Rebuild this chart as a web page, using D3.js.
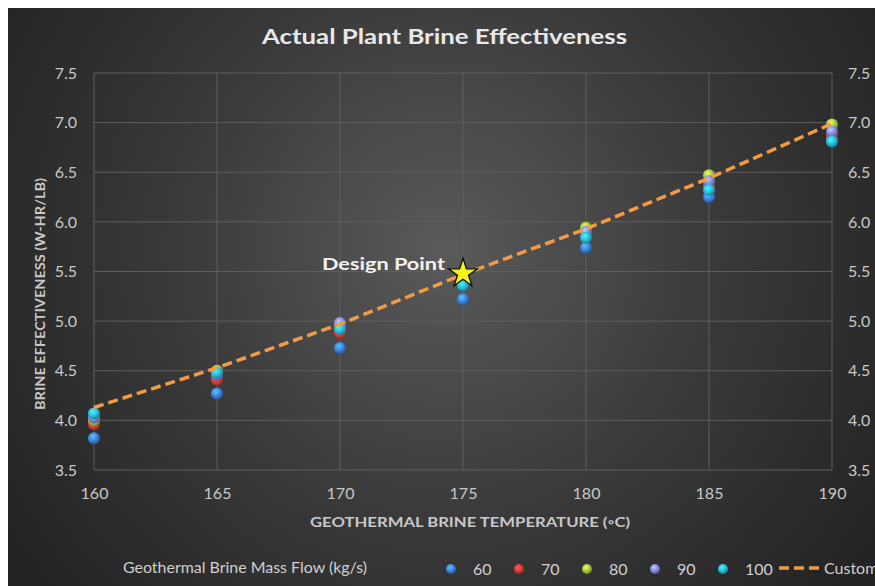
<!DOCTYPE html>
<html>
<head>
<meta charset="utf-8">
<script src="https://cdnjs.cloudflare.com/ajax/libs/d3/7.8.5/d3.min.js"></script>
<style>
  body { margin: 0; background: #fff; }
  text { font-family: "Lato", "Open Sans", sans-serif; }
</style>
</head>
<body>
<script>
'use strict';

// data
const temps = [160, 165, 170, 175, 180, 185, 190];
const flows = ['60', '70', '80', '90', '100'];
const flow60  = [3.82, 4.27, 4.73, 5.22, 5.74, 6.25, 6.84];
const flow70  = [3.96, 4.41, 4.88, 5.38, 5.86, 6.36, 6.87];
const flow80  = [4.00, 4.50, 4.96, 5.45, 5.94, 6.47, 6.98];
const flow90  = [4.03, 4.46, 4.98, 5.42, 5.90, 6.41, 6.91];
const flow100 = [4.07, 4.48, 4.92, 5.36, 5.84, 6.32, 6.81];
const custom  = [4.13, 4.53, 4.97, 5.47, 5.93, 6.44, 6.99];
const designPoint = {t: 175, v: 5.48};
const yTicks = [3.5, 4.0, 4.5, 5.0, 5.5, 6.0, 6.5, 7.0, 7.5];
const colors = ['#3b7fdc', '#d9393a', '#9fc63a', '#7f86db', '#2ab7d8'];

const seriesValues = [flow60, flow70, flow80, flow90, flow100];

const svg = d3.select('body').append('svg')
  .attr('width', 875)
  .attr('height', 586);

const defs = svg.append('defs');

// dark background with lighter centre
let bg = defs.append('radialGradient')
  .attr('id', 'bg')
  .attr('gradientUnits', 'userSpaceOnUse')
  .attr('cx', 445).attr('cy', 250).attr('r', 520);
bg.append('stop').attr('offset', '0%').attr('stop-color', '#5a5a5a');
bg.append('stop').attr('offset', '55%').attr('stop-color', '#383838');
bg.append('stop').attr('offset', '100%').attr('stop-color', '#232323');

// shiny balls
colors.forEach((c, i) => {
  let g = defs.append('radialGradient')
    .attr('id', 'ball' + i)
    .attr('cx', '40%').attr('cy', '35%').attr('r', '65%');
  g.append('stop').attr('offset', '0%').attr('stop-color', d3.color(c).brighter(1.2));
  g.append('stop').attr('offset', '60%').attr('stop-color', c);
  g.append('stop').attr('offset', '100%').attr('stop-color', d3.color(c).darker(1));
});

svg.append('rect')
  .attr('x', 8).attr('y', 8)
  .attr('width', 867).attr('height', 578)
  .attr('fill', 'url(#bg)');

let xScale = d3.scaleLinear().domain([160, 190]).range([94, 832]);
let yScale = d3.scaleLinear().domain([3.5, 7.5]).range([470, 73]);

// grid
svg.append('g').selectAll('line')
  .data(temps)
  .enter().append('line')
  .attr('x1', d => xScale(d)).attr('x2', d => xScale(d))
  .attr('y1', yScale(3.5)).attr('y2', yScale(7.5))
  .attr('stroke', '#5e5e5e').attr('stroke-width', 1);

svg.append('g').selectAll('line')
  .data(yTicks)
  .enter().append('line')
  .attr('x1', xScale(160)).attr('x2', xScale(190))
  .attr('y1', d => yScale(d)).attr('y2', d => yScale(d))
  .attr('stroke', '#5e5e5e').attr('stroke-width', 1);

// axes (labels only, Excel style)
let xAxis = d3.axisBottom(xScale).tickValues(temps).tickSize(0).tickPadding(18);
let gx = svg.append('g').attr('transform', 'translate(0,' + yScale(3.5) + ')').call(xAxis);

let yAxisL = d3.axisLeft(yScale).tickValues(yTicks).tickFormat(d3.format('.1f')).tickSize(0).tickPadding(17);
let gyl = svg.append('g').attr('transform', 'translate(' + xScale(160) + ',0)').call(yAxisL);

let yAxisR = d3.axisRight(yScale).tickValues(yTicks).tickFormat(d3.format('.1f')).tickSize(0).tickPadding(16);
let gyr = svg.append('g').attr('transform', 'translate(' + xScale(190) + ',0)').call(yAxisR);

[gx, gyl, gyr].forEach(g => {
  g.select('.domain').remove();
  g.selectAll('text')
    .style('font-family', 'Lato, sans-serif')
    .style('font-size', '16px')
    .attr('fill', '#c8c8c8');
});

// custom dashed line
let line = d3.line()
  .x((d, i) => xScale(temps[i]))
  .y(d => yScale(d));

// points
seriesValues.forEach((vals, s) => {
  svg.append('g').selectAll('circle')
    .data(vals)
    .enter().append('circle')
    .attr('cx', (d, i) => xScale(temps[i]))
    .attr('cy', d => yScale(d))
    .attr('r', 6)
    .attr('fill', 'url(#ball' + s + ')');
});

svg.append('path')
  .datum(custom)
  .attr('d', line)
  .attr('fill', 'none')
  .attr('stroke', '#f39a45')
  .attr('stroke-width', 3.5)
  .attr('stroke-dasharray', '10,5');

// design point star
let star = d3.symbol().type(d3.symbolStar).size(260);
svg.append('path')
  .attr('d', star)
  .attr('transform', 'translate(' + xScale(designPoint.t) + ',' + yScale(designPoint.v) + ')')
  .attr('fill', '#f7f21c')
  .attr('stroke', '#111')
  .attr('stroke-width', 1.3);

svg.append('text')
  .attr('x', 322)
  .attr('y', 270)
  .attr('textLength', 123)
  .attr('lengthAdjust', 'spacingAndGlyphs')
  .style('font-size', '17px')
  .style('font-weight', 'bold')
  .attr('fill', '#f2f2f2')
  .text('Design Point');

// titles
svg.append('text')
  .attr('x', 262).attr('y', 44)
  .attr('textLength', 365)
  .attr('lengthAdjust', 'spacingAndGlyphs')
  .style('font-size', '21px')
  .style('font-weight', 'bold')
  .attr('fill', '#e8e8e8')
  .text('Actual Plant Brine Effectiveness');

svg.append('text')
  .attr('x', 310).attr('y', 527)
  .attr('textLength', 320)
  .attr('lengthAdjust', 'spacingAndGlyphs')
  .style('font-size', '14px')
  .style('font-weight', 'bold')
  .attr('fill', '#c8c8c8')
  .text('GEOTHERMAL BRINE TEMPERATURE (\u25E6C)');

svg.append('text')
  .attr('transform', 'translate(45,410)rotate(-90)')
  .attr('textLength', 232)
  .attr('lengthAdjust', 'spacingAndGlyphs')
  .style('font-size', '14px')
  .style('font-weight', 'bold')
  .attr('fill', '#c8c8c8')
  .text('BRINE EFFECTIVENESS (W-HR/LB)');

// legend
svg.append('text')
  .attr('x', 123).attr('y', 573)
  .attr('textLength', 244)
  .attr('lengthAdjust', 'spacingAndGlyphs')
  .style('font-size', '15px')
  .attr('fill', '#d0d0d0')
  .text('Geothermal Brine Mass Flow (kg/s)');

let legend = svg.append('g').selectAll('g')
  .data(flows)
  .enter().append('g')
  .attr('transform', (d, i) => 'translate(' + (451 + i * 68) + ',569)');

legend.append('circle')
  .attr('r', 5)
  .attr('fill', (d, i) => 'url(#ball' + i + ')');

legend.append('text')
  .attr('x', 22).attr('y', 5.5)
  .style('font-size', '16px')
  .attr('fill', '#d0d0d0')
  .text(d => d);

svg.append('line')
  .attr('x1', 779).attr('x2', 822)
  .attr('y1', 568).attr('y2', 568)
  .attr('stroke', '#f39a45')
  .attr('stroke-width', 3.5)
  .attr('stroke-dasharray', '10,5');

svg.append('text')
  .attr('x', 824).attr('y', 574)
  .style('font-size', '16px')
  .attr('fill', '#d0d0d0')
  .text('Custom');
</script>
</body>
</html>
